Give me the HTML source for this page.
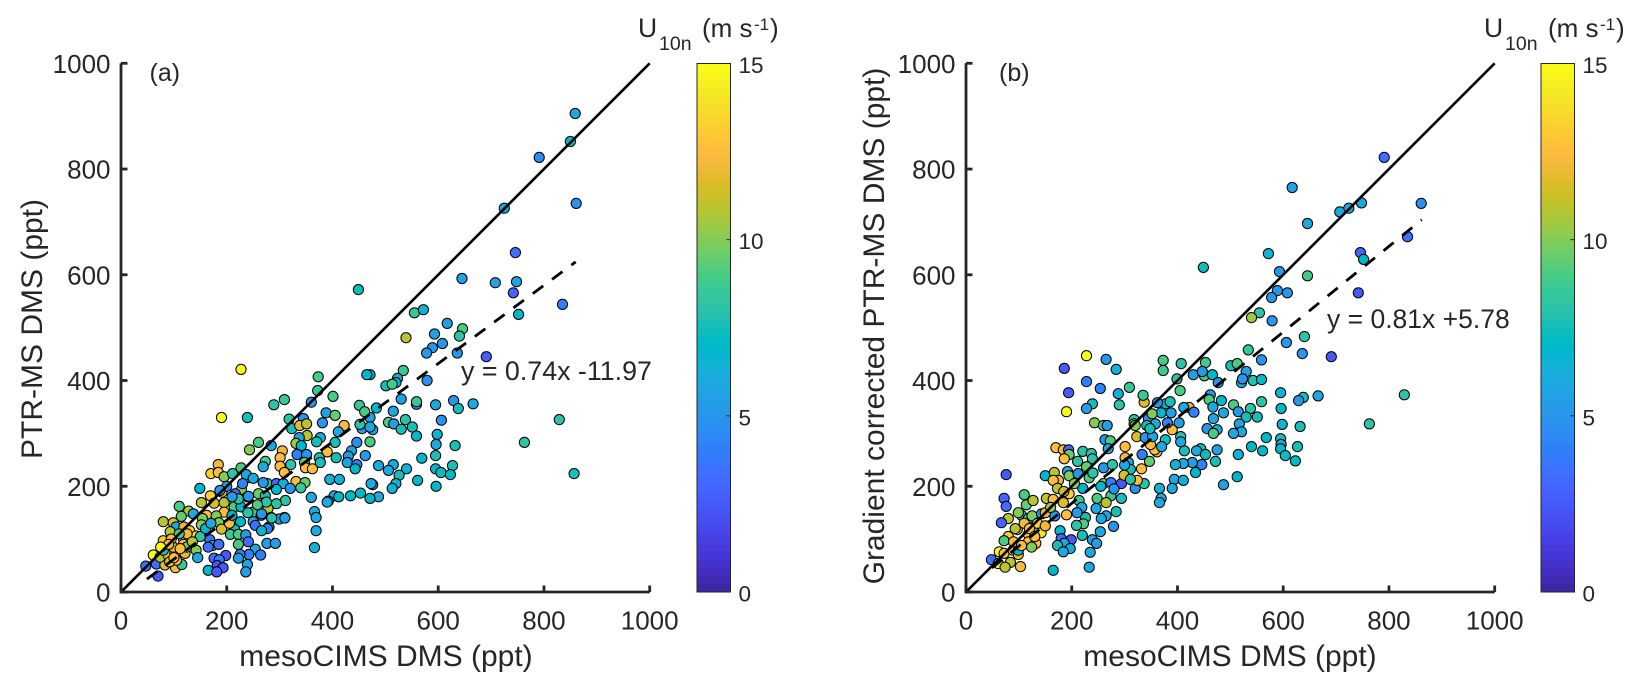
<!DOCTYPE html>
<html lang="en">
<head>
<meta charset="utf-8">
<title>PTR-MS vs mesoCIMS DMS</title>
<style>
html,body{margin:0;padding:0;background:#fff;width:1643px;height:692px;overflow:hidden}
svg{display:block}
text{font-family:"Liberation Sans",Arial,sans-serif;fill:#262626}
</style>
</head>
<body>
<svg id="fig" xmlns="http://www.w3.org/2000/svg" width="1643" height="692" viewBox="0 0 1643 692">
  <g id="panel-a"></g>
  <g id="panel-b"></g>

  <text x="149.5" y="81" font-size="25">(a)</text>
  <text x="999" y="81" font-size="25">(b)</text>

  <text x="386" y="666" font-size="30" text-anchor="middle">mesoCIMS DMS (ppt)</text>
  <text x="1230" y="666" font-size="30" text-anchor="middle">mesoCIMS DMS (ppt)</text>
  <text transform="translate(42,329) rotate(-90)" font-size="30" text-anchor="middle">PTR-MS DMS (ppt)</text>
  <text transform="translate(884,326) rotate(-90)" font-size="30" text-anchor="middle">Gradient corrected PTR-MS DMS (ppt)</text>

  <text x="461" y="380" font-size="26.8">y = 0.74x -11.97</text>
  <text x="1327" y="328" font-size="26.5">y = 0.81x +5.78</text>

  <g>
    <text x="638" y="37" font-size="26.5">U</text>
    <text x="659" y="50" font-size="19.5">10n</text>
    <text x="702" y="37" font-size="26">(m s</text>
    <text x="754" y="30" font-size="17">-1</text>
    <text x="770" y="37" font-size="26">)</text>
  </g>
  <g>
    <text x="1484" y="37" font-size="26.5">U</text>
    <text x="1505" y="50" font-size="19.5">10n</text>
    <text x="1548" y="37" font-size="26">(m s</text>
    <text x="1600" y="30" font-size="17">-1</text>
    <text x="1616" y="37" font-size="26">)</text>
  </g>
</svg>
<script>
const xTicks = [0, 200, 400, 600, 800, 1000];
const yTicks = [0, 200, 400, 600, 800, 1000];
const windTicks = [0, 5, 10, 15];
const oneToOne = [0, 1000];

const slopeA = 0.74;
const interceptA = -11.97;
const fitRangeA = [49, 860];
const slopeB = 0.81;
const interceptB = 5.78;
const fitRangeB = [49, 862];

const xA = [
859,850,791,861,725,746,645,708,748,742,
835,752,449,555,572,617,646,640,593,539,
608,589,578,636,691,579,534,523,520,501,
513,471,530,559,559,595,629,638,666,483,
515,606,538,506,516,530,551,559,598,596,
632,829,763,857,569,595,487,515,506,540,
526,595,605,627,623,561,520,513,596,476,
487,471,471,476,471,
227,190,239,373,372,401,360,309,289,465,
451,461,388,405,318,345,323,338,351,381,
422,411,456,471,452,352,337,377,370,405,
446,331,341,260,243,284,305,436,390,333,
351,301,375,407,430,462,273,269,377,428,
446,443,321,347,301,349,362,184,170,184,
227,195,211,239,237,309,395,413,473,331,
348,277,269,294,307,149,320,340,228,192,
169,191,260,239,294,360,434,453,403,412,
392,390,152,222,273,311,273,294,195,176,
214,227,249,278,366,110,128,114,80,195,
162,154,180,137,99,104,369,309,284,299,
265,250,226,152,185,254,280,277,266,369,
190,215,93,119,130,142,207,222,236,80,
118,168,241,276,292,366,222,173,118,142,
254,185,165,264,242,198,225,176,222,186,
145,239,182,193,165,61,47,67,103,83,
115,74,89,102,108,121,80,99,124,105,
92,70,
200,216,241,187,222,275,266,285,310,181,
236,205,210,258,240,150,160,170,210,230,
250,125,135,110,95,90,75,100,112
];
const yA = [
905,852,822,735,726,642,593,585,587,566,
544,525,572,528,534,508,498,484,488,481,
470,462,452,452,445,400,419,404,396,390,
393,411,365,355,360,354,362,347,356,348,
342,325,326,321,318,308,312,295,298,279,
277,326,283,224,253,258,239,241,230,233,
221,233,226,239,222,211,205,196,200,203,
180,177,284,307,330,
421,330,330,407,381,370,359,364,354,411,
353,341,339,334,327,328,309,315,318,320,
315,303,309,312,317,296,292,292,284,283,
283,281,277,283,269,277,267,267,265,260,
260,254,254,254,257,258,247,237,245,245,
241,233,241,245,238,235,233,241,224,226,
235,218,224,216,222,226,213,213,205,209,
207,205,207,205,205,196,196,197,194,192,
182,189,186,180,194,179,182,187,182,180,
172,170,169,177,182,173,169,167,169,168,
161,161,151,158,152,162,153,143,133,151,
145,139,144,148,131,123,141,141,141,138,
145,133,133,127,131,126,123,120,116,116,
119,118,114,123,116,106,109,109,108,97,
101,99,95,92,92,84,90,88,90,79,
81,90,85,70,71,69,71,64,64,61,
65,52,50,46,41,70,49,53,46,51,
52,66,70,73,79,73,79,85,85,60,
57,30,
200,186,181,192,176,170,148,140,140,38,
38,130,145,165,150,105,120,130,180,205,
215,110,95,110,100,90,85,65,82
];
const windA = [
6,7,4.5,4.7,6,3.5,5.5,5.7,5.6,3,
4,7,7.3,8.5,6.5,5.5,9,8,5.5,11,
5,5,5,5,2.7,4.7,8.5,6,7,7.5,
8.8,7,5.5,5,8.5,6,5,7.5,6,7,
5.8,5,8,9,5.5,7.5,7.5,7,6.5,6,
7.5,8,8.3,7.7,7,7.5,6,6,6,6.5,
7.5,7,7.3,7.5,7,7,6.5,6.5,7,5.5,
6,7,9,6,5.5,
15,15,7.7,9,8.5,9,5,8.5,8,7,
8.5,9,5.5,9.5,8,5,7.5,11.7,11,5,
12.2,6,5,6,8,11,5.5,6.5,7.5,7.5,
4.8,10.5,7,9,10,6,12,6,12.5,4,
5,12.6,7.5,7.5,5,5,9,6,7.5,5.5,
4,7,8,9.5,12.5,12.5,12.5,12.3,13.3,12.5,
9,10,8,8,6,12.5,6.5,6.5,6,12.5,
9.5,8.5,5,3,6.5,7,5,8.5,10,3,
13.3,12.5,9.5,5.5,7,6,7,7,6,7,
6.5,6,11,8,7.7,8,7.5,8,11,11.7,
9,7,9,11,6,9,11,9.5,11,12.5,
12.5,10,10,6,11.7,6,6,5.5,8,5,
5,5.5,7,10,10,3.3,5.5,4,7,6,
11.7,7.5,11,12,13.3,14,8.5,9,5,13,
12.5,3.5,3.5,5.5,5.5,6.5,9,7.5,12.5,10,
6,3.5,3.5,4,4.2,2.4,4,3.5,5.5,4,
6,6,2.5,2.5,7,15,3.5,3.5,12.3,11.5,
8.5,11,12.5,12.5,12.5,11.7,8,11.7,10,12.3,
11.7,2.5,
5,3.5,5,5,8,8,5,8,5.5,2.5,
5.5,12.5,7,9,8,8,7,6,5,4,
6,12,11,9,12.5,12.3,15,12.5,12.5
];

const xB = [
791,617,748,724,707,861,646,572,449,593,
646,589,608,578,746,752,835,742,555,540,
579,640,606,636,691,534,559,407,453,501,
513,530,430,451,466,477,447,399,405,521,
543,559,523,595,666,638,629,829,596,462,
460,483,506,559,467,487,515,538,530,551,
422,412,431,468,
763,598,632,517,521,506,456,475,468,568,
595,596,595,627,540,561,604,623,475,515,
444,436,453,413,472,446,428,411,396,434,
513,487,394,411,390,366,369,366,320,337,
324,332,347,333,361,357,349,377,406,406,
390,403,381,388,369,345,358,342,323,339,
353,378,337,318,318,348,
228,265,284,186,373,373,228,254,309,194,
288,335,239,290,228,190,362,386,352,243,
260,267,320,263,273,269,301,370,170,184,
194,195,186,221,237,301,211,239,307,260,
277,228,311,192,76,150,167,195,212,233,
175,165,260,274,294,299,311,173,221,248,
274,294,195,110,72,76,114,127,152,165,
184,214,265,284,246,265,256,226,190,219,
105,118,80,67,99,125,143,168,279,222,
209,178,254,220,239,247,199,180,186,173,
197,184,235,233,165,142,80,97,118,127,
93,72,118,132,124,63,72,89,99,48,
61,84,103,74,99,
110,135,150,120,90,105,130,150,160,185,
205,240,300,255,280,210
];
const yB = [
822,765,736,726,719,735,697,640,614,606,
598,570,566,557,642,629,672,566,528,519,
513,483,472,451,445,458,439,432,434,428,
432,417,411,409,411,396,417,403,381,396,
400,402,403,377,371,368,362,373,347,373,
364,362,354,360,350,339,341,347,331,331,
349,349,340,328,
318,317,313,318,303,300,309,307,300,292,
290,279,271,275,275,267,258,248,269,260,
271,267,260,267,247,241,245,243,241,226,
218,203,213,211,196,196,177,169,196,205,
211,233,247,260,265,269,279,288,294,284,
307,320,320,339,339,328,318,315,294,292,
294,356,359,326,318,309,
447,440,421,423,438,419,398,385,387,377,
375,372,356,354,347,341,358,360,337,320,
315,315,315,288,286,271,275,275,273,269,
269,260,252,266,262,254,247,252,245,235,
241,237,232,228,222,220,226,220,224,216,
211,211,205,207,205,221,213,196,196,177,
182,177,186,184,177,162,165,173,177,175,
169,173,169,152,158,144,139,141,146,160,
145,139,139,131,150,144,148,144,124,129,
126,116,114,107,99,92,99,101,92,88,
82,76,75,47,41,112,105,118,109,120,
120,97,95,92,85,76,73,79,71,61,
54,56,48,47,79,
130,130,150,120,95,88,105,125,160,190,
205,225,240,200,195,150
];
const windB = [
3.5,5.5,6,6,6,4.8,6,6.5,7.3,5,
8.8,5,5,5,3,7,3.5,2.4,8,10.5,
5,8,5,5,2.5,8.5,5,8,8.8,7.5,
9,5.5,5.5,9,7,5,5,8,9,6,
7.8,7,5,6.5,6,7.5,5,8,7,5,
9,7,9,8,6,6,5,8,7.5,7.5,
12,6,4,6,
8,6.5,7.5,5.5,6,6,5,6,9,7,
7.5,6,7,7.5,7,7,7.3,7.2,5.5,6.5,
7.5,6,7.3,7.5,7.5,4,5.5,6,6.5,7,
6.8,5.5,6,6.5,6,6.5,6,6,5,8,
12.5,12.5,9.5,4,12.5,12.5,12.5,7.5,8,6,
12.5,5.5,4.2,5.5,7,5,6,7.5,11.7,5,
6,7,11.7,8,11,7.5,
15,5,6.5,2.4,9,8.8,4,4,8.5,2.5,
6,8.5,7.5,8,5.5,15,5,7.5,10,10,
9,5.5,10,5,9,6,12.5,6,12.5,12,
3,9.5,12.5,8,8,12.6,8,8,6.5,5,
8,9.5,7.5,6,2.5,7,11,10,5,9,
11.7,12.5,10,4,2.5,11.7,8,11,7,9,
8.5,7.5,13.3,9,3,3.5,9.5,11,11,12.5,
11.7,8.5,11,7.5,6,6,6,7.7,12.5,6,
6,8.5,11,3,10,10,5,5,4.8,9,
8,7,6,7.5,5.5,5.5,2.5,3,6,7.5,
6.5,6,6,6,7,14,13,11,12.5,9,
11,9,12.5,12.5,10,15,12.5,12.5,11.7,3.5,
15,11,12.3,11,7,
12,13.3,12,12.5,12.3,12.5,12.5,12,10.5,11.7,
10,8,6,7,5,5
];

/* parula colormap (64 levels) */
const parula = [
[.2422,.1504,.6603],[.2504,.165,.7076],[.2578,.1818,.7511],[.2647,.1978,.7952],
[.2706,.2147,.8364],[.2751,.2342,.871],[.2783,.2559,.8991],[.2803,.2782,.9221],
[.2813,.3006,.9414],[.281,.3228,.9579],[.2795,.3447,.9717],[.276,.3667,.9829],
[.2699,.3892,.9906],[.2602,.4123,.9952],[.244,.4358,.9988],[.2206,.4603,.9973],
[.1963,.4847,.9892],[.1834,.5074,.9798],[.1786,.5289,.9682],[.1764,.5499,.952],
[.1687,.5703,.9359],[.154,.5902,.9218],[.146,.6091,.9079],[.138,.6276,.8973],
[.1248,.6459,.8883],[.1113,.6635,.8763],[.0952,.6798,.8598],[.0689,.6948,.8394],
[.0297,.7082,.8163],[.0036,.7203,.7917],[.0067,.7312,.766],[.0433,.7411,.7394],
[.0964,.75,.712],[.1408,.7584,.6842],[.1717,.767,.6554],[.1938,.7758,.6251],
[.2161,.7843,.5923],[.247,.7918,.5567],[.2906,.7973,.5188],[.3406,.8008,.4789],
[.3909,.8029,.4354],[.4456,.8024,.3909],[.5044,.7993,.348],[.5616,.7942,.3045],
[.6174,.7876,.2612],[.672,.7793,.2227],[.7242,.7698,.191],[.7738,.7598,.1646],
[.8203,.7498,.1535],[.8634,.7406,.1596],[.9035,.733,.1774],[.9393,.7288,.21],
[.9728,.7298,.2394],[.9956,.7434,.2371],[.997,.7659,.2199],[.9952,.7893,.2028],
[.9892,.8136,.1885],[.9786,.8386,.1766],[.9676,.8639,.1643],[.961,.889,.1537],
[.9597,.9135,.1423],[.9628,.9373,.1265],[.9691,.9606,.1064],[.9769,.9839,.0805]
];

const NS = 'http://www.w3.org/2000/svg';
const INK = '#262626';
const WIND_MAX = 15;

function make(tag, parent, attrs) {
  const el = document.createElementNS(NS, tag);
  for (const k in attrs) el.setAttribute(k, attrs[k]);
  parent.appendChild(el);
  return el;
}
function windColor(w) {
  const i = Math.max(0, Math.min(63, Math.floor(w / WIND_MAX * 64)));
  const c = parula[i];
  return 'rgb(' + Math.round(c[0] * 255) + ',' + Math.round(c[1] * 255) + ',' + Math.round(c[2] * 255) + ')';
}

function drawPanel(id, left, cbLeft, xs, ys, ws, slope, intercept, fitRange) {
  const g = document.getElementById(id);
  const AX = 0.5287, Y0 = 592;
  const sx = v => left + v * AX;
  const sy = v => Y0 - v * AX;

  /* markers */
  const pts = make('g', g, {});
  
  
  xs.forEach((xv, i) => {
    const c = make('circle', pts, {
      cx: sx(xv).toFixed(1), cy: sy(ys[i]).toFixed(1), r: 5.1,
      fill: windColor(ws[i]), stroke: '#000', 'stroke-width': 1
    });
    
    
  });

  /* reference lines */
  const line11 = make('line', g, {
    x1: sx(oneToOne[0]), y1: sy(oneToOne[0]), x2: sx(oneToOne[1]), y2: sy(oneToOne[1]),
    stroke: '#000', 'stroke-width': 2.6
  });
  
  

  const fit = make('line', g, {
    x1: sx(fitRange[0]), y1: sy(slope * fitRange[0] + intercept),
    x2: sx(fitRange[1]), y2: sy(slope * fitRange[1] + intercept),
    stroke: '#000', 'stroke-width': 2.8, 'stroke-dasharray': '13 11'
  });
  
  

  /* axes */
  const axes = make('g', g, {});
  
  
  make('path', axes, {
    d: 'M' + left + ' ' + sy(1000) + 'V' + Y0 + 'H' + sx(1000),
    fill: 'none', stroke: INK, 'stroke-width': 2.8
  });
  xTicks.forEach(v => {
    make('line', axes, { x1: sx(v), x2: sx(v), y1: Y0, y2: Y0 - 6.5, stroke: INK, 'stroke-width': 2.8 });
    const t = make('text', axes, { x: sx(v), y: 629.5, 'font-size': 26, 'text-anchor': 'middle' });
    t.textContent = v;
    
    
  });
  yTicks.forEach(v => {
    make('line', axes, { x1: left, x2: left + 6.5, y1: sy(v), y2: sy(v), stroke: INK, 'stroke-width': 2.8 });
    const t = make('text', axes, { x: left - 10.5, y: sy(v) + 9.5, 'font-size': 26, 'text-anchor': 'end' });
    t.textContent = v;
    
    
  });

  /* colorbar */
  const cb = make('g', g, {});
  
  
  const cbTop = 63.5, cbH = 528.5, cbW = 33.5;
  parula.forEach((c, i) => {
    const h = cbH / parula.length;
    make('rect', cb, {
      x: cbLeft, y: (cbTop + cbH - (i + 1) * h).toFixed(2), width: cbW, height: (h + 0.4).toFixed(2),
      fill: windColor((i + 0.5) / parula.length * WIND_MAX)
    });
  });
  make('rect', cb, { x: cbLeft, y: cbTop, width: cbW, height: cbH, fill: 'none', stroke: INK, 'stroke-width': 1 });
  windTicks.forEach(v => {
    const yy = cbTop + cbH - v / WIND_MAX * cbH;
    make('line', cb, { x1: cbLeft + cbW - 4, x2: cbLeft + cbW, y1: yy, y2: yy, stroke: INK, 'stroke-width': 1 });
    const t = make('text', cb, { x: cbLeft + cbW + 8, y: yy + 9.5, 'font-size': 22.5 });
    t.textContent = v;
    
    
  });
}

drawPanel('panel-a', 121, 697, xA, yA, windA, slopeA, interceptA, fitRangeA);
drawPanel('panel-b', 966, 1541, xB, yB, windB, slopeB, interceptB, fitRangeB);
</script>
</body>
</html>
